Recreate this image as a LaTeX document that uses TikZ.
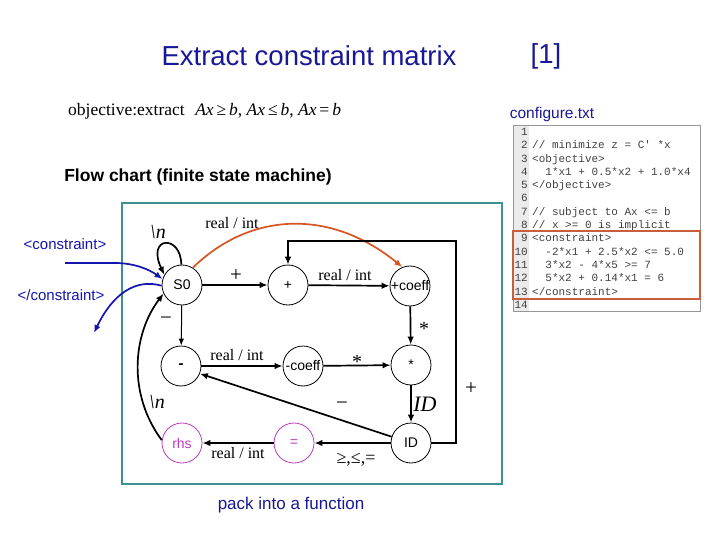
\documentclass[tikz,border=0pt]{standalone}
\usepackage{fontspec}
\setmainfont{Liberation Sans}
\newfontfamily\serifx{Liberation Serif}
\newfontfamily\monox{Liberation Mono}
\usetikzlibrary{arrows.meta}
\definecolor{titleblue}{RGB}{24,24,150}
\definecolor{arrowblue}{RGB}{20,20,175}
\definecolor{tealbox}{RGB}{60,145,145}
\definecolor{curveorange}{RGB}{215,85,35}
\definecolor{boxred}{RGB}{200,95,60}
\definecolor{rhsmag}{RGB}{185,60,190}
\definecolor{codegray}{RGB}{150,150,150}
\tikzset{
  state/.style={circle,draw,line width=0.8pt,minimum size=40pt,inner sep=0pt,font=\fontsize{14}{14}\selectfont},
  magstate/.style={state,draw=rhsmag,text=rhsmag},
  arr/.style={line width=1.7pt,-{Latex[length=8pt,width=6.5pt]}},
  thinarr/.style={line width=1pt,-{Latex[length=7pt,width=5.5pt]}},
  orangearr/.style={line width=1.7pt,draw=curveorange,-{Latex[length=8pt,width=6.5pt]}},
  bluearr/.style={line width=1.7pt,draw=arrowblue,-{Latex[length=8pt,width=6.5pt]}},
  lbl/.style={font=\serifx\fontsize{16}{16}\selectfont,inner sep=0pt},
  biglbl/.style={font=\serifx\fontsize{21}{21}\selectfont,inner sep=0pt},
  codeln/.style={font=\monox\fontsize{11}{11}\selectfont,text=black!75,inner sep=0pt,anchor=base west},
  codenum/.style={font=\monox\fontsize{11}{11}\selectfont,text=black!75,inner sep=0pt,anchor=base east},
  bluetext/.style={text=titleblue,inner sep=0pt}
}
\begin{document}
\begin{tikzpicture}[x=1pt,y=-1pt]
\useasboundingbox (0,0) rectangle (720,540);
% titles
\node[bluetext,font=\fontsize{27.5}{27.5}\selectfont] (title) at (309,56) {Extract constraint matrix};
\node[bluetext,font=\fontsize{27.5}{27.5}\selectfont] (ref) at (546,56) {[1]};
\node[anchor=west,inner sep=0pt,font=\serifx\fontsize{17.5}{17.5}\selectfont] (obj) at (68,111)
  {objective:extract\hspace{0.6em}\textit{Ax}\,≥\,\textit{b}, \textit{Ax}\,≤\,\textit{b}, \textit{Ax}\,=\,\textit{b}};
\node[bluetext,font=\fontsize{15.5}{15.5}\selectfont] (cfg) at (552,114) {configure.txt};
\node[inner sep=0pt,font=\bfseries\fontsize{17.5}{17.5}\selectfont] (fc) at (198,177) {Flow chart (finite state machine)};
\node[bluetext,font=\fontsize{17}{17}\selectfont] (pack) at (291,505) {pack into a function};

% code box
\fill[black!8] (513,125) rectangle (529,311);
\draw[codegray,line width=0.8pt] (513,125) rectangle (700,311);
\foreach \i/\t in {1/{},2/{// minimize z = C' *x},3/{<objective>},4/{\ \ 1*x1 + 0.5*x2 + 1.0*x4},5/{</objective>},6/{},7/{// subject to Ax <= b},8/{// x >= 0 is implicit},9/{<constraint>},10/{\ \ -2*x1 + 2.5*x2 <= 5.0},11/{\ \ 3*x2 - 4*x5 >= 7},12/{\ \ 5*x2 + 0.14*x1 = 6},13/{</constraint>},14/{}}{
  \node[codenum] (n\i) at (528,{135.5+(\i-1)*13.3}) {\i};
  \node[codeln] (l\i) at (532,{135.5+(\i-1)*13.3}) {\t};
}
\draw[boxred,line width=1.2pt] (513,231) rectangle (700,299);

% flow chart frame
\draw[tealbox,line width=1.3pt] (122,203) rectangle (502,484);

% states
\node[state] (S0) at (182,285) {S0};
\node[state] (plus) at (288,285) {+};
\node[state] (pcoeff) at (410,286) {\makebox[0pt]{+coeff}};
\node[state,font=\bfseries\fontsize{15}{15}\selectfont] (minus) at (181,366) {-};
\node[state] (mcoeff) at (303,366) {\makebox[0pt]{-coeff}};
\node[state] (star) at (411,365) {*};
\node[magstate] (rhs) at (182,443) {rhs};
\node[magstate] (eq) at (294,443) {=};
\node[state] (ID) at (411,443) {ID};

% edges
\draw[arr] (S0) -- (plus);
\draw[arr] (plus) -- (pcoeff);
\draw[orangearr] (S0.58) .. controls (250,212) and (330,208) .. (pcoeff.112);
\draw[arr] (S0.92) .. controls (181,234) and (146,236) .. (S0.150);
\draw[thinarr] (S0) -- (minus);
\draw[arr] (pcoeff) -- (star);
\draw[arr] (minus) -- (mcoeff);
\draw[arr] (mcoeff) -- (star);
\draw[arr] (star) -- (ID);
\draw[arr] (ID.162) -- (minus.-22);
\draw[arr] (ID) -- (eq);
\draw[arr] (eq) -- (rhs);
\draw[arr] (rhs.172) .. controls (128,395) and (132,335) .. (S0.205);
\coordinate (fbtop) at (456,241);
\draw[arr] (ID.east) -| (fbtop) -| (plus.north);

% blue in/out arrows
\coordinate (cin) at (65,263);
\coordinate (cout) at (94,333);
\draw[bluearr] (cin) -- (115,263) .. controls (135,263) and (150,270) .. (S0.163);
\draw[bluearr] (S0.182) .. controls (135,278) and (112,295) .. (cout);
\node[text=arrowblue,inner sep=0pt,font=\fontsize{15}{15}\selectfont] (tin) at (65,244) {<constraint>};
\node[text=arrowblue,inner sep=0pt,font=\fontsize{15}{15}\selectfont] (tout) at (61,295) {</constraint>};

% edge labels
\node[lbl] (la) at (232,223) {real / int};
\node[lbl] (lb) at (345,275) {real / int};
\node[lbl] (lc) at (237,355) {real / int};
\node[lbl] (ld) at (238,453) {real / int};
\node[biglbl] (le) at (236,276) {+};
\node[biglbl] (lf) at (471,389) {+};
\node[biglbl] (lg) at (166,321) {−};
\node[biglbl] (lh) at (342,406) {−};
\node[lbl,font=\serifx\fontsize{20}{20}\selectfont] (li) at (424,329) {*};
\node[lbl,font=\serifx\fontsize{20}{20}\selectfont] (lj) at (357,362) {*};
\node[biglbl,font=\serifx\itshape\fontsize{22}{22}\selectfont] (lk) at (425,404) {ID};
\node[lbl,font=\serifx\fontsize{18}{18}\selectfont] (ll) at (356,460) {≥,≤,=};
\node[biglbl,font=\serifx\itshape\fontsize{20}{20}\selectfont] (lm) at (158,232) {\textbackslash n};
\node[biglbl,font=\serifx\itshape\fontsize{20}{20}\selectfont] (ln) at (157,402) {\textbackslash n};
\end{tikzpicture}
\end{document}
